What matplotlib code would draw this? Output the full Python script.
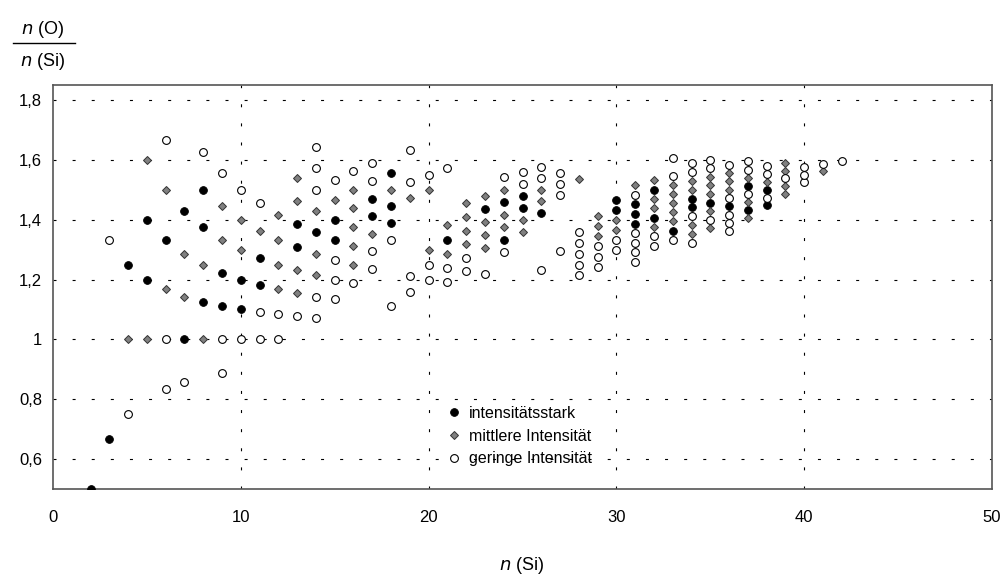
import matplotlib
matplotlib.use("Agg")
import matplotlib.pyplot as plt
from matplotlib.lines import Line2D

plt.rcParams['font.family'] = ['Liberation Sans', 'DejaVu Sans']

# Cluster compositions Si_n O_m : (n(Si), n(O))
strong_si = [2, 3, 4, 5, 5, 6, 7, 7, 8, 8, 8, 9, 9, 10, 10, 11, 11, 13, 13, 14, 15, 15,
             17, 17, 18, 18, 18, 21, 23, 24, 24, 25, 25, 26, 30, 30, 31, 31, 31, 32, 32,
             33, 34, 34, 35, 36, 37, 37, 38, 38]
strong_o = [1, 2, 5, 6, 7, 8, 7, 10, 9, 11, 12, 10, 11, 11, 12, 13, 14, 17, 18, 19, 20, 21,
            24, 25, 25, 26, 28, 28, 33, 32, 35, 36, 37, 37, 43, 44, 43, 44, 45, 45, 48,
            45, 49, 50, 51, 52, 53, 56, 55, 57]

medium_si = [4, 5, 5, 6, 6, 7, 7, 8, 8, 9, 9, 10, 10, 11, 12, 12, 12, 12, 13, 13, 13, 13,
             14, 14, 14, 15, 16, 16, 16, 16, 16, 17, 18, 19, 20, 20, 21, 21, 22, 22, 22, 22,
             23, 23, 23, 23, 24, 24, 24, 25, 25, 26, 26, 28, 29, 29, 29, 30, 30, 31,
             32, 32, 32, 32, 33, 33, 33, 33, 33, 34, 34, 34, 34, 35, 35, 35, 35, 35,
             36, 36, 36, 37, 37, 37, 38, 39, 39, 39, 39, 41]
medium_o = [4, 5, 8, 7, 9, 8, 9, 8, 10, 12, 13, 13, 14, 15, 14, 15, 16, 17, 15, 16, 19, 20,
            17, 18, 20, 22, 20, 21, 22, 23, 24, 23, 27, 28, 26, 30, 27, 29, 29, 30, 31, 32,
            30, 31, 32, 34, 33, 34, 36, 34, 35, 38, 39, 43, 39, 40, 41, 41, 42, 47,
            44, 46, 47, 49, 46, 47, 48, 49, 50, 46, 47, 51, 52, 48, 50, 52, 53, 54,
            54, 55, 56, 52, 54, 57, 58, 58, 59, 61, 62, 64]

weak_si = [3, 4, 6, 6, 6, 7, 8, 9, 9, 9, 10, 10, 11, 11, 11, 12, 12, 13, 14, 14, 14, 14, 14,
           15, 15, 15, 15, 16, 16, 17, 17, 17, 17, 18, 18, 19, 19, 19, 19, 20, 20, 20,
           21, 21, 21, 22, 22, 23, 24, 24, 25, 25, 26, 26, 26, 27, 27, 27, 27,
           28, 28, 28, 28, 28, 29, 29, 29, 30, 30, 31, 31, 31, 31, 31, 32, 32,
           33, 33, 33, 34, 34, 34, 34, 35, 35, 35, 36, 36, 36, 36, 36, 37, 37, 37,
           38, 38, 38, 39, 40, 40, 40, 41, 42]
weak_o = [4, 3, 5, 6, 10, 6, 13, 8, 9, 14, 10, 15, 11, 12, 16, 12, 13, 14, 15, 16, 21, 22, 23,
          17, 18, 19, 23, 19, 25, 21, 22, 26, 27, 20, 24, 22, 23, 29, 31, 24, 25, 31,
          25, 26, 33, 27, 28, 28, 31, 37, 38, 39, 32, 40, 41, 35, 40, 41, 42,
          34, 35, 36, 37, 38, 36, 37, 38, 39, 40, 39, 40, 41, 42, 46, 42, 43,
          44, 51, 53, 45, 48, 53, 54, 49, 55, 56, 49, 50, 51, 53, 57, 55, 58, 59,
          56, 59, 60, 60, 61, 62, 63, 65, 67]

labels = ["intensitätsstark", "mittlere Intensität", "geringe Intensität"]
x_ticks = [0, 10, 20, 30, 40, 50]
y_ticks = [0.6, 0.8, 1.0, 1.2, 1.4, 1.6, 1.8]
y_ticklabels = ["0,6", "0,8", "1", "1,2", "1,4", "1,6", "1,8"]


def ratio(si, o):
    return [oo / ss for ss, oo in zip(si, o)]


fig = plt.figure(figsize=(10.02, 5.81), dpi=100)
ax = fig.add_axes([53 / 1002, 1 - 489 / 581, (992 - 53) / 1002, (489 - 85) / 581])

ax.plot(strong_si, ratio(strong_si, strong_o), linestyle='none', marker='o',
        markersize=5.6, markerfacecolor='black', markeredgecolor='black',
        markeredgewidth=0.6, label=labels[0], zorder=3)
ax.plot(medium_si, ratio(medium_si, medium_o), linestyle='none', marker='D',
        markersize=4.1, markerfacecolor='#808080', markeredgecolor='#333333',
        markeredgewidth=0.7, label=labels[1], zorder=3)
ax.plot(weak_si, ratio(weak_si, weak_o), linestyle='none', marker='o',
        markersize=5.6, markerfacecolor='white', markeredgecolor='black',
        markeredgewidth=0.8, label=labels[2], zorder=3)

ax.set_xlim(0, 50)
ax.set_ylim(0.5, 1.85)
ax.set_xticks(x_ticks)
ax.set_xticklabels([str(v) for v in x_ticks])
ax.set_yticks(y_ticks)
ax.set_yticklabels(y_ticklabels)
ax.tick_params(axis='both', length=0, labelsize=12)
ax.tick_params(axis='x', pad=15)
ax.tick_params(axis='y', pad=8)

for v in [10, 20, 30, 40]:
    ax.axvline(v, color='black', linewidth=0.8, linestyle=(0, (2.7, 14.5)), zorder=1)
for v in y_ticks:
    ax.axhline(v, color='black', linewidth=0.8, linestyle=(0, (2.7, 14.5)), zorder=1)

for sp in ax.spines.values():
    sp.set_color('#555555')
    sp.set_linewidth(1.2)

leg = ax.legend(loc='upper left', bbox_to_anchor=(447 / 1002, 1 - 406 / 581),
                bbox_transform=fig.transFigure, frameon=False, fontsize=11.5,
                handlelength=0.9, handletextpad=0.5, labelspacing=0.48, borderpad=0,
                borderaxespad=0)

# y-axis label as a fraction
fig.text(43 / 1002, 1 - 30 / 581, r"$\it{n}$ (O)", ha='center', va='center', fontsize=13)
fig.text(43 / 1002, 1 - 62 / 581, r"$\it{n}$ (Si)", ha='center', va='center', fontsize=13)
fig.add_artist(Line2D([13 / 1002, 75 / 1002], [1 - 43 / 581, 1 - 43 / 581],
                      color='black', linewidth=1.0, transform=fig.transFigure))

fig.text(522 / 1002, 1 - 565 / 581, r"$\it{n}$ (Si)", ha='center', va='center', fontsize=13)

fig.savefig("out.png", dpi=100)
